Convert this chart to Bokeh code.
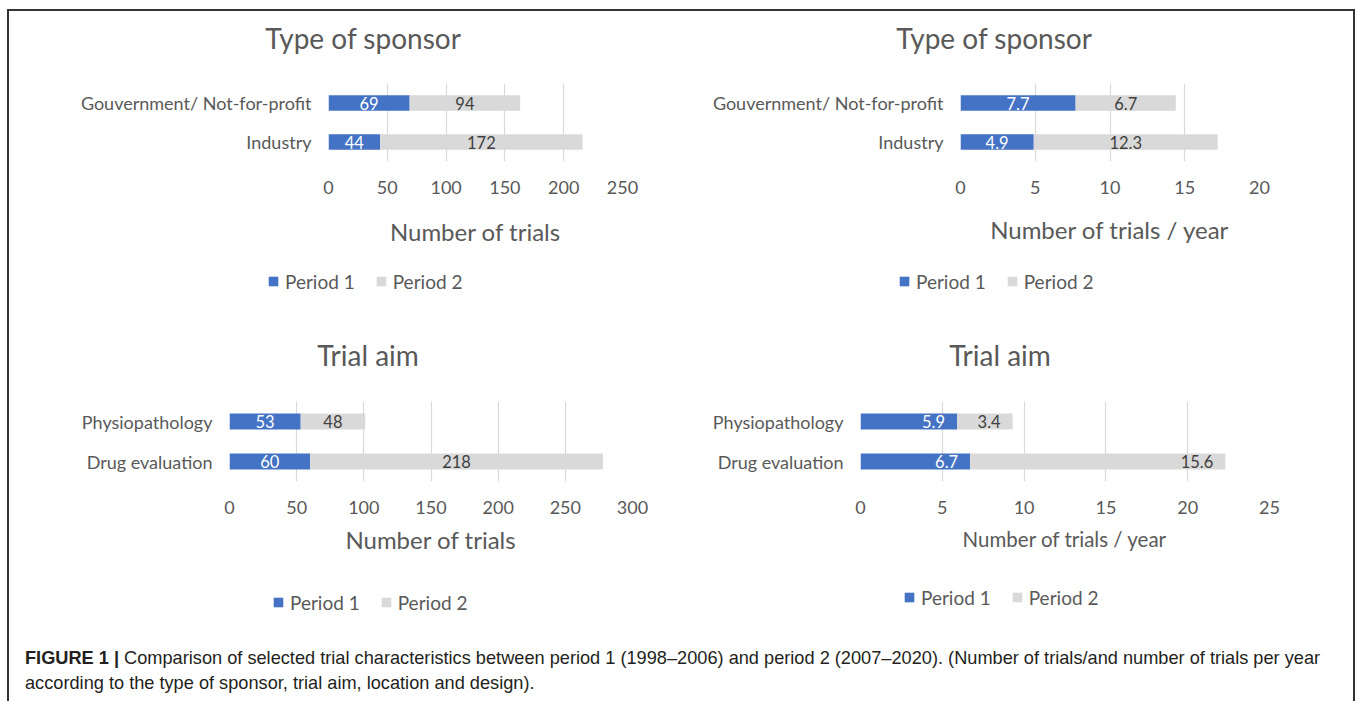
from bokeh.plotting import figure
from bokeh.models import (ColumnDataSource, FactorRange, Range1d, FixedTicker, LabelSet,
                          Legend, LegendItem, Div)
from bokeh.layouts import column, row
from bokeh.core.properties import value
from bokeh.embed import file_html
from bokeh.resources import INLINE

# ---------------- data ----------------
series_names = ["Period 1", "Period 2"]

sponsor_categories = ["Gouvernment/ Not-for-profit", "Industry"]
sponsor_trials_p1 = [69, 44]
sponsor_trials_p2 = [94, 172]
sponsor_rate_p1 = [7.7, 4.9]
sponsor_rate_p2 = [6.7, 12.3]

aim_categories = ["Physiopathology", "Drug evaluation"]
aim_trials_p1 = [53, 60]
aim_trials_p2 = [48, 218]
aim_rate_p1 = [5.9, 6.7]
aim_rate_p2 = [3.4, 15.6]

ticks_sponsor_trials = [0, 50, 100, 150, 200, 250]
ticks_sponsor_rate = [0, 5, 10, 15, 20]
ticks_aim_trials = [0, 50, 100, 150, 200, 250, 300]
ticks_aim_rate = [0, 5, 10, 15, 20, 25]

titles = ["Type of sponsor", "Type of sponsor", "Trial aim", "Trial aim"]
xlabels = ["Number of trials", "Number of trials / year", "Number of trials", "Number of trials / year"]

caption_bold = "FIGURE 1 |"
caption_line1 = ("Comparison of selected trial characteristics between period 1 (1998\u20132006) and "
                 "period 2 (2007\u20132020). (Number of trials/and number of trials per year")
caption_line2 = "according to the type of sponsor, trial aim, location and design)."

# ---------------- style ----------------
BLUE = "#4472C4"
GRAY = "#D9D9D9"
TXT = "#595959"
FONT = "Lato"
LEG_H = 23


def fmt(v):
    return str(v)


def title_div(width, height, text, cx, pad_top):
    return Div(text=(f'<div style="width:{2 * cx}px; text-align:center; padding-top:{pad_top}px; '
                     f'font-family:Lato, sans-serif; font-size:28px; line-height:34px; '
                     f'color:{TXT}; white-space:nowrap;">{text}</div>'),
               width=width, height=height, margin=0)


def legend_strip(width, height, gx, top, v1, v2):
    lf = figure(width=width, height=height, x_range=Range1d(0, 1), y_range=Range1d(0, 1),
                output_backend="svg", toolbar_location=None,
                x_axis_location=None, y_axis_location=None, min_border=0)
    lf.frame_align = False
    lf.outline_line_color = None
    lf.grid.visible = False
    lf.background_fill_color = "white"
    lf.border_fill_color = "white"
    # series renderers used only for the legend swatches (zero-size, nothing visible drawn)
    s1 = lf.hbar(y=v1, left=v1, right=v1, height=0, fill_color=BLUE, line_color=None)
    s2 = lf.hbar(y=v2, left=v2, right=v2, height=0, fill_color=GRAY, line_color=None)
    legend = Legend(items=[LegendItem(label=series_names[0], renderers=[s1]),
                           LegendItem(label=series_names[1], renderers=[s2])],
                    orientation="horizontal", location=(gx, height - LEG_H - top),
                    glyph_width=12, glyph_height=12, label_standoff=6, spacing=20,
                    padding=0, margin=0, border_line_color=None,
                    background_fill_alpha=0,
                    label_text_font=FONT, label_text_font_size="19px",
                    label_text_color=TXT)
    lf.add_layout(legend)
    return lf


def chart(cats, p1, p2, ticks, xlabel, *, width, height, bl, fw, bt, fh,
          xlabel_size, xlabel_standoff, label_mode):
    p = figure(width=width, height=height,
               y_range=FactorRange(factors=list(reversed(cats))),
               x_range=Range1d(ticks[0], ticks[-1]),
               output_backend="svg", toolbar_location=None,
               min_border_left=bl, min_border_right=width - bl - fw,
               min_border_top=bt, min_border_bottom=height - bt - fh)
    p.frame_align = False
    p.outline_line_color = None
    p.background_fill_color = "white"
    p.border_fill_color = "white"

    end = [a + b for a, b in zip(p1, p2)]
    src = ColumnDataSource(dict(
        cat=cats, p1=p1, p2=p2, end=end,
        mid1=[a / 2 for a in p1],
        mid2=[a + b / 2 for a, b in zip(p1, p2)],
        lab1=[fmt(v) for v in p1], lab2=[fmt(v) for v in p2]))

    p.hbar(y="cat", left=0, right="p1", height=0.4, source=src,
           fill_color=BLUE, line_color=None)
    p.hbar(y="cat", left="p1", right="end", height=0.4, source=src,
           fill_color=GRAY, line_color=None)

    if label_mode == "center":
        l1 = LabelSet(x="mid1", y="cat", text="lab1", source=src, text_align="center")
        l2 = LabelSet(x="mid2", y="cat", text="lab2", source=src, text_align="center")
    else:
        l1 = LabelSet(x="p1", y="cat", text="lab1", source=src, text_align="right", x_offset=-12)
        l2 = LabelSet(x="end", y="cat", text="lab2", source=src, text_align="right", x_offset=-12)
    for lab, col in ((l1, "white"), (l2, "#404040")):
        lab.text_baseline = "middle"
        lab.text_color = col
        lab.text_font = value(FONT)
        lab.text_font_size = "16.5px"
        p.add_layout(lab)

    p.xaxis.ticker = FixedTicker(ticks=ticks)
    p.xgrid.ticker = FixedTicker(ticks=ticks)
    p.xgrid.grid_line_color = GRAY
    p.xgrid.grid_line_width = 1.2
    p.ygrid.grid_line_color = None
    for ax in (p.xaxis, p.yaxis):
        ax.axis_line_color = None
        ax.major_tick_line_color = None
        ax.minor_tick_line_color = None
        ax.major_tick_out = 0
        ax.major_tick_in = 0
        ax.minor_tick_out = 0
        ax.major_label_text_font = FONT
        ax.major_label_text_font_size = "18px"
        ax.major_label_text_color = TXT
    p.yaxis.major_label_standoff = 17
    p.xaxis.major_label_standoff = 19
    p.xaxis.axis_label = xlabel
    p.xaxis.axis_label_text_font = FONT
    p.xaxis.axis_label_text_font_size = xlabel_size
    p.xaxis.axis_label_text_font_style = "normal"
    p.xaxis.axis_label_text_color = TXT
    p.xaxis.axis_label_standoff = xlabel_standoff
    return p


# top row: title 50, chart 201, legend 58 ; bottom row: 60, 200, 45
t1 = title_div(671, 50, titles[0], 354, 9.5)
t2 = title_div(673, 50, titles[1], 314, 9.5)
t3 = title_div(671, 60, titles[2], 359, 18)
t4 = title_div(673, 60, titles[3], 320, 18)

f1 = chart(sponsor_categories, sponsor_trials_p1, sponsor_trials_p2,
           ticks_sponsor_trials, xlabels[0],
           width=671, height=201, bl=319, fw=294, bt=22, fh=78,
           xlabel_size="24px", xlabel_standoff=20, label_mode="center")
f2 = chart(sponsor_categories, sponsor_rate_p1, sponsor_rate_p2,
           ticks_sponsor_rate, xlabels[1],
           width=673, height=201, bl=280, fw=299, bt=22, fh=78,
           xlabel_size="24px", xlabel_standoff=18, label_mode="center")
f3 = chart(aim_categories, aim_trials_p1, aim_trials_p2,
           ticks_aim_trials, xlabels[2],
           width=671, height=200, bl=220, fw=403, bt=21, fh=80,
           xlabel_size="24px", xlabel_standoff=8, label_mode="center")
f4 = chart(aim_categories, aim_rate_p1, aim_rate_p2,
           ticks_aim_rate, xlabels[3],
           width=673, height=200, bl=180, fw=409, bt=21, fh=80,
           xlabel_size="20.5px", xlabel_standoff=10, label_mode="end")

lg1 = legend_strip(671, 58, 258, 7.5, sponsor_trials_p1, sponsor_trials_p2)
lg2 = legend_strip(673, 58, 218, 7.5, sponsor_rate_p1, sponsor_rate_p2)
lg3 = legend_strip(671, 45, 263, 10.5, aim_trials_p1, aim_trials_p2)
lg4 = legend_strip(673, 45, 223, 5.5, aim_rate_p1, aim_rate_p2)

cap = Div(text=(f'<div style="padding:21px 0 0 16px; font-family:\'Liberation Sans\', Arial, sans-serif; '
                f'font-size:18.2px; line-height:25px; color:#231F20; white-space:nowrap;">'
                f'<b>{caption_bold}</b> {caption_line1}<br>{caption_line2}</div>'),
          width=1344, height=76, margin=0)

layout = column(row(column(t1, f1, lg1), column(t2, f2, lg2)),
                row(column(t3, f3, lg3), column(t4, f4, lg4)),
                cap, margin=(9, 0, 0, 7),
                styles={"border-top": "2px solid #333333",
                        "border-left": "2px solid #333333",
                        "border-right": "2px solid #333333"})

open("out.html", "w").write(file_html(layout, INLINE))
